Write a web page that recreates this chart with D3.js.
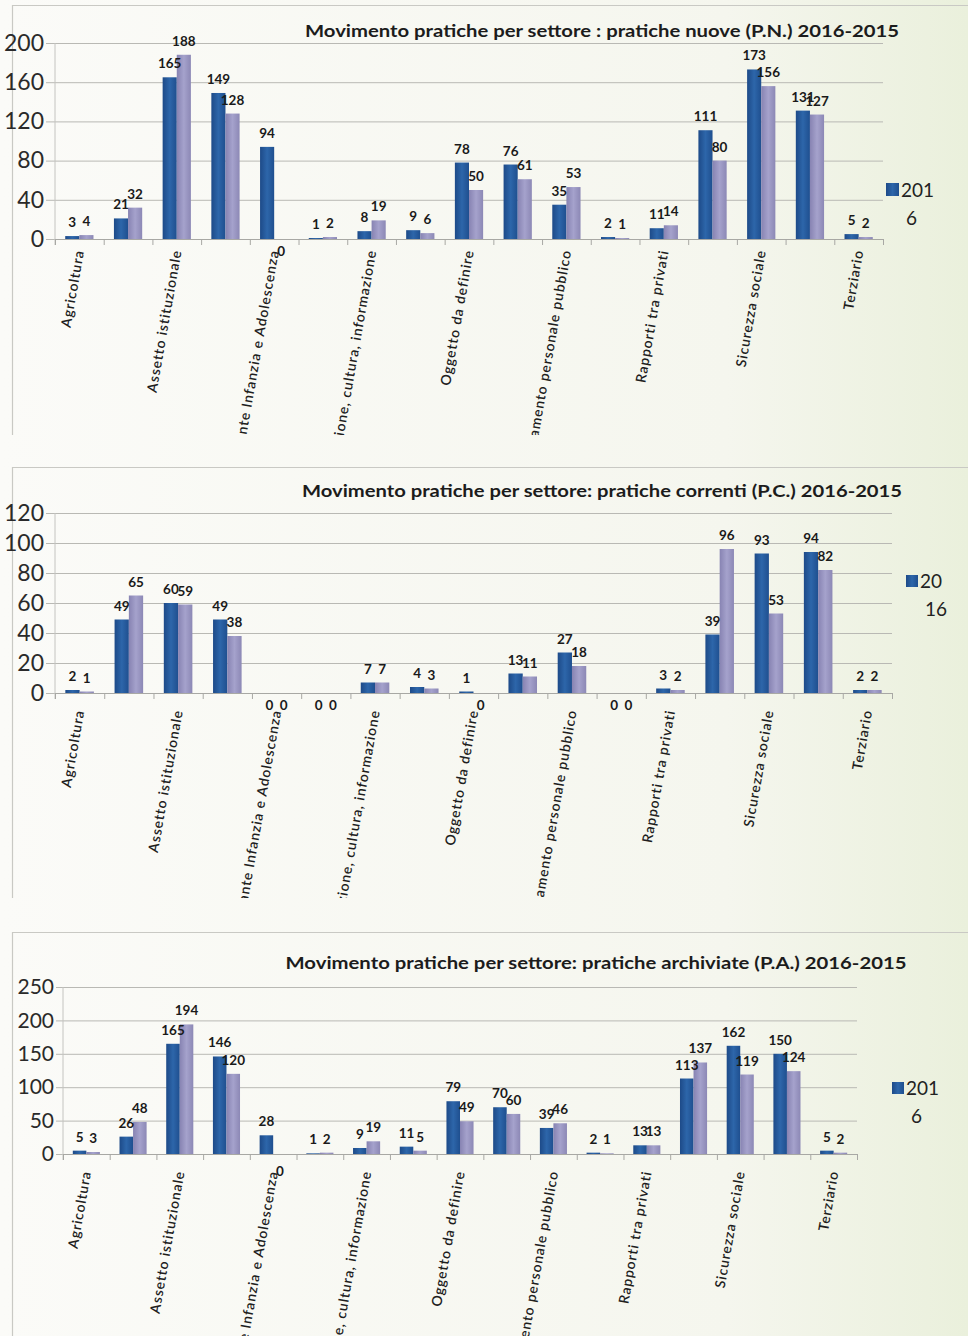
<!DOCTYPE html>
<html><head><meta charset="utf-8">
<script src="https://cdn.jsdelivr.net/npm/d3@7"></script>
<style>
html,body{margin:0;padding:0;background:#f7f8f2;}
svg{display:block;}
text{font-family:Lato,"Noto Sans",sans-serif;}
</style></head><body>
<svg id="chart" width="968" height="1336"></svg>
<script>
// ---------- DATA ----------
const categories = [
  "Agricoltura", "Ambiente", "Assetto istituzionale", "Edilizia e urbanistica",
  "Garante Infanzia e Adolescenza", "Industria e artigianato", "Istruzione, cultura, informazione",
  "Lavoro", "Oggetto da definire", "Opere pubbliche", "Ordinamento personale pubblico",
  "Programmazione", "Rapporti tra privati", "Sanità", "Sicurezza sociale", "Territorio", "Terziario"
];
const seriesNames = ["2016", "2015"];

const nuove2016 = [3, 21, 165, 149, 94, 1, 8, 9, 78, 76, 35, 2, 11, 111, 173, 131, 5];
const nuove2015 = [4, 32, 188, 128, 0, 2, 19, 6, 50, 61, 53, 1, 14, 80, 156, 127, 2];

const correnti2016 = [2, 49, 60, 49, 0, 0, 7, 4, 1, 13, 27, 0, 3, 39, 93, 94, 2];
const correnti2015 = [1, 65, 59, 38, 0, 0, 7, 3, 0, 11, 18, 0, 2, 96, 53, 82, 2];

const archiviate2016 = [5, 26, 165, 146, 28, 1, 9, 11, 79, 70, 39, 2, 13, 113, 162, 150, 5];
const archiviate2015 = [3, 48, 194, 120, 0, 2, 19, 5, 49, 60, 46, 1, 13, 137, 119, 124, 2];

const titles = [
  "Movimento pratiche per settore : pratiche nuove (P.N.) 2016-2015",
  "Movimento pratiche per settore: pratiche correnti (P.C.) 2016-2015",
  "Movimento pratiche per settore: pratiche archiviate (P.A.) 2016-2015"
];
const yTicksNuove = [0, 40, 80, 120, 160, 200];
const yTicksCorrenti = [0, 20, 40, 60, 80, 100, 120];
const yTicksArchiviate = [0, 50, 100, 150, 200, 250];

// ---------- LAYOUT ----------
const panels = [
  {title: titles[0], a: nuove2016, b: nuove2015, ticks: yTicksNuove, split: 3,
   top: 5, bottom: 435, y0: 239, yTop: 43, x0: 55, x1: 883, gridLeft: 46,
   titleX: 602, titleY: 37, titleW: 594, labOff: 11, yFont: 23,
   legX: 886, legY: 183, legSq: 13, legFont: 19, zeroOff: 17},
  {title: titles[1], a: correnti2016, b: correnti2015, ticks: yTicksCorrenti, split: 2,
   top: 467, bottom: 898, y0: 693, yTop: 513, x0: 55, x1: 892, gridLeft: 46,
   titleX: 602, titleY: 497, titleW: 600, labOff: 17, yFont: 23,
   legX: 906, legY: 575, legSq: 12, legFont: 19, zeroOff: 17},
  {title: titles[2], a: archiviate2016, b: archiviate2015, ticks: yTicksArchiviate, split: 3,
   top: 932, bottom: 1336, y0: 1154, yTop: 987, x0: 63, x1: 857, gridLeft: 56,
   titleX: 596, titleY: 969, titleW: 621, labOff: 17, yFont: 21,
   legX: 892, legY: 1082, legSq: 12, legFont: 19, zeroOff: 22}
];

const svg = d3.select("#chart");
const defs = svg.append("defs");

// background tint like the scanned page
const bg = defs.append("linearGradient").attr("id", "bg").attr("x1", 0).attr("x2", 1).attr("y1", 0).attr("y2", 0);
bg.append("stop").attr("offset", 0).attr("stop-color", "#fbfbf8");
bg.append("stop").attr("offset", 0.75).attr("stop-color", "#f5f6ee");
bg.append("stop").attr("offset", 1).attr("stop-color", "#eaf0dc");
svg.append("rect").attr("width", 968).attr("height", 1336).attr("fill", "url(#bg)");

function grad(id, c0, c1, c2) {
  const g = defs.append("linearGradient").attr("id", id).attr("x1", 0).attr("x2", 1).attr("y1", 0).attr("y2", 0);
  g.append("stop").attr("offset", 0).attr("stop-color", c0);
  g.append("stop").attr("offset", 0.5).attr("stop-color", c1);
  g.append("stop").attr("offset", 1).attr("stop-color", c2);
}
grad("gBlue", "#1d4a88", "#2d66aa", "#1f4f8f");
grad("gLav", "#8783b2", "#a5a2cc", "#8c88b5");
const fills = ["url(#gBlue)", "url(#gLav)"];

panels.forEach((p, pi) => {
  const clipId = "clip" + pi;
  defs.append("clipPath").attr("id", clipId)
    .append("rect").attr("x", 0).attr("y", p.top).attr("width", 968).attr("height", p.bottom - p.top);

  const g = svg.append("g").attr("clip-path", `url(#${clipId})`);

  // frame
  g.append("line").attr("x1", 12.5).attr("x2", 968).attr("y1", p.top + 0.5).attr("y2", p.top + 0.5)
    .attr("stroke", "#c9c9c4").attr("stroke-width", 1.2);
  g.append("line").attr("x1", 12.5).attr("x2", 12.5).attr("y1", p.top).attr("y2", p.bottom)
    .attr("stroke", "#c9c9c4").attr("stroke-width", 1.2);

  const y = d3.scaleLinear().domain([0, d3.max(p.ticks)]).range([p.y0, p.yTop]);
  const xb = d3.scaleBand().domain(categories).range([p.x0, p.x1]).paddingInner(0.42).paddingOuter(0.21);
  const xs = d3.scaleBand().domain(seriesNames).range([0, xb.bandwidth()]);
  const xl = d3.scaleLinear().domain([0, categories.length]).range([p.x0, p.x1]);

  // gridlines + y labels
  const yAxis = d3.axisLeft(y).tickValues(p.ticks).tickSize(-(p.x1 - p.gridLeft)).tickPadding(2);
  const ya = g.append("g").attr("transform", `translate(${p.gridLeft},0)`).call(yAxis);
  ya.select(".domain").remove();
  ya.selectAll(".tick line").attr("stroke", "#b9b9b4").attr("stroke-width", 1);
  ya.selectAll(".tick text").attr("font-size", p.yFont).attr("fill", "#2a2a2a").attr("font-family", "Lato, 'Noto Sans', sans-serif");

  // vertical axis line
  g.append("line").attr("x1", p.x0).attr("x2", p.x0).attr("y1", p.yTop).attr("y2", p.y0 + 6)
    .attr("stroke", "#c4c4c0");

  // x axis ticks at category boundaries
  const xAxis = d3.axisBottom(xl).tickValues(d3.range(categories.length + 1)).tickFormat("").tickSize(6);
  const xa = g.append("g").attr("transform", `translate(0,${p.y0})`).call(xAxis);
  xa.select(".domain").attr("stroke", "#a8a8a4");
  xa.selectAll(".tick line").attr("stroke", "#a8a8a4");

  // title
  g.append("text").attr("x", p.titleX).attr("y", p.titleY).attr("text-anchor", "middle")
    .attr("font-size", 17).attr("font-weight", "bold").attr("fill", "#1c1c1c")
    .attr("textLength", p.titleW).attr("lengthAdjust", "spacingAndGlyphs")
    .text(p.title);

  // bars
  const rows = categories.map((c, i) => ({c, vals: [p.a[i], p.b[i]]}));
  const grp = g.selectAll(".grp").data(rows).join("g").attr("transform", d => `translate(${xb(d.c)},0)`);
  grp.selectAll("rect").data(d => d.vals.map((v, k) => ({v, k})))
    .join("rect")
    .attr("x", d => xs(seriesNames[d.k]))
    .attr("width", xs.bandwidth())
    .attr("y", d => y(d.v))
    .attr("height", d => p.y0 - y(d.v))
    .attr("fill", d => fills[d.k]);

  // value labels
  grp.selectAll("text.val").data(d => d.vals.map((v, k) => ({v, k})))
    .join("text").attr("class", "val")
    .attr("x", d => xs(seriesNames[d.k]) + xs.bandwidth() / 2)
    .attr("y", d => d.v > 0 ? y(d.v) - 9 : p.y0 + p.zeroOff)
    .attr("text-anchor", "middle").attr("font-size", 13.5).attr("font-weight", "bold").attr("fill", "#1a1a1a")
    .text(d => d.v);

  // category labels (every other category shown, as in Excel)
  g.selectAll("text.cat").data(categories.filter((c, i) => i % 2 === 0))
    .join("text").attr("class", "cat")
    .attr("transform", d => `translate(${xb(d) + xb.bandwidth() / 2},${p.y0 + p.labOff}) rotate(-80)`)
    .attr("text-anchor", "end").attr("dy", "0.35em")
    .attr("font-size", 14).attr("letter-spacing", 0.9).attr("font-weight", 600).attr("fill", "#1e1e1e")
    .text(d => d);

  // legend (only first series visible, name wrapped)
  g.append("rect").attr("x", p.legX).attr("y", p.legY).attr("width", p.legSq).attr("height", p.legSq)
    .attr("fill", "url(#gBlue)");
  const lt = g.append("text").attr("font-size", p.legFont).attr("fill", "#222");
  lt.append("tspan").attr("x", p.legX + p.legSq + 2).attr("y", p.legY + p.legSq + 1).text(seriesNames[0].slice(0, p.split));
  lt.append("tspan").attr("x", p.legX + p.legSq + 7).attr("y", p.legY + p.legSq + 29).text(seriesNames[0].slice(p.split));
});
</script>
</body></html>
